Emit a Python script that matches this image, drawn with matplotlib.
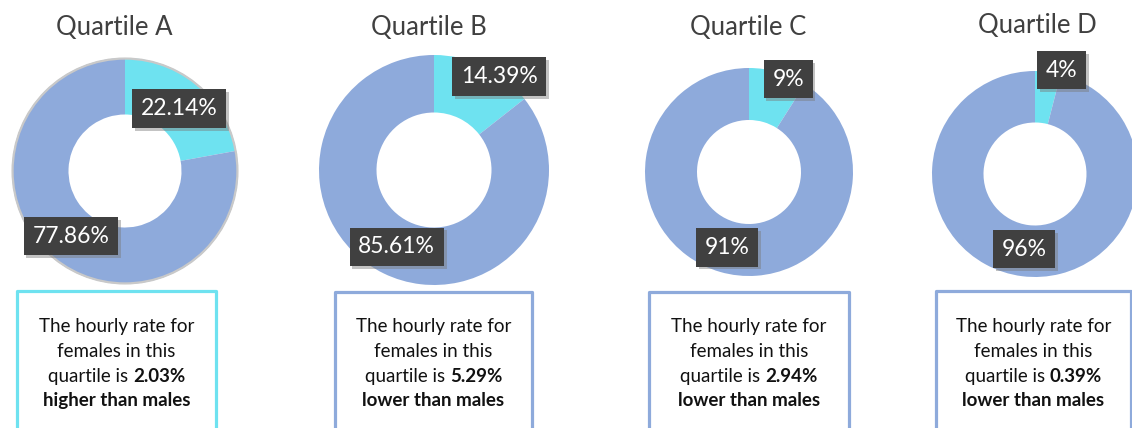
import matplotlib
matplotlib.use("Agg")
import matplotlib.pyplot as plt
import matplotlib.patheffects as pe
from matplotlib.patches import Rectangle, Circle
import numpy as np

# ---------------- data ----------------
quartiles = ["Quartile A", "Quartile B", "Quartile C", "Quartile D"]
female_pct = [22.14, 14.39, 9, 4]
male_pct = [77.86, 85.61, 91, 96]
gap_values = ["2.03%", "5.29%", "2.94%", "0.39%"]
gap_direction = ["higher than males", "lower than males", "lower than males", "lower than males"]

# ---------------- style ----------------
W, H = 1132, 428
CYAN = "#6EE2F0"
BLUE = "#8EAADB"
LABEL_BG = "#404040"
TITLE_C = "#404040"
FONT = ["Lato", "DejaVu Sans"]

# donut centre/radius in pixels
donut_geom = [(125, 171, 113), (434, 170, 115), (749, 172, 104), (1035, 174, 103)]
# label placement (radius fraction, angular nudge deg) for female / male labels
female_lab = [(0.73, 1.0), (0.99, 9.0), (0.97, 6.6), (1.04, 7.1)]
male_lab = [(0.75, 0.0), (0.743, 0.0), (0.756, 0.0), (0.736, 1.0)]
title_pos = [(114, 35), (429, 35), (748, 35), (1037, 33)]
box_geom = [(17, 291, 216), (335, 292, 532), (649, 292, 849), (936, 291, 1131)]
box_col = [CYAN, BLUE, BLUE, BLUE]
line_base = [332, 357, 382, 406]

fig = plt.figure(figsize=(W / 100, H / 100), dpi=100)
fig.patch.set_facecolor("white")


def fx(x):
    return x / W


def fy(y):
    return 1 - y / H


def fmt(v):
    return f"{v:g}%"


for i in range(4):
    cx, cy, R = donut_geom[i]
    ax = fig.add_axes([fx(cx - R), fy(cy + R), 2 * R / W, 2 * R / H])
    vals = [female_pct[i], male_pct[i]]
    ax.pie(vals, colors=[CYAN, BLUE], startangle=90, counterclock=False,
           radius=1.0, wedgeprops=dict(width=0.5, edgecolor="none"))
    ax.set_xlim(-1, 1)
    ax.set_ylim(-1, 1)
    ax.set_aspect("equal")
    ax.axis("off")
    if i == 0:
        ax.add_patch(Circle((0, 0), 0.995, fill=False, ec="#C9C9C9", lw=1.6, zorder=3,
                            clip_on=False))
    tot = sum(vals)
    mids = [vals[0] / tot * 180, (vals[0] + vals[1] / 2) / tot * 360]
    for j, (val, mid, (rf, dth)) in enumerate(zip(vals, mids, [female_lab[i], male_lab[i]])):
        th = np.deg2rad(mid + dth)
        x, y = rf * np.sin(th), rf * np.cos(th)
        t = ax.text(x, y, fmt(val), ha="center", va="center", color="white",
                    fontsize=16.5, family=FONT, zorder=5, clip_on=False,
                    bbox=dict(boxstyle="square,pad=0.38", fc=LABEL_BG, ec="none", lw=0))
        t.get_bbox_patch().set_path_effects(
            [pe.withSimplePatchShadow(offset=(2, -2), shadow_rgbFace="#7a7a7a", alpha=0.45)])

    # title
    tx, ty = title_pos[i]
    fig.text(fx(tx), fy(ty), quartiles[i], ha="center", va="baseline",
             fontsize=18.5, color=TITLE_C, family=FONT)

    # bottom box
    x0, y0, x1 = box_geom[i]
    fig.patches.append(Rectangle((fx(x0), fy(H + 20)), (x1 - x0) / W, (H + 20 - y0) / H,
                                 transform=fig.transFigure, fill=False, ec=box_col[i],
                                 lw=2.3, joinstyle="round", figure=fig))

fig.canvas.draw()
renderer = fig.canvas.get_renderer()


def width_px(s, weight):
    t = fig.text(0, 0, s, fontsize=13.5, family=FONT, weight=weight)
    w = t.get_window_extent(renderer).width
    t.remove()
    return w


for i in range(4):
    x0, y0, x1 = box_geom[i]
    xc = (x0 + x1) / 2
    kw = dict(fontsize=13.5, family=FONT, color="#111111", va="baseline")
    fig.text(fx(xc), fy(line_base[0]), "The hourly rate for", ha="center", **kw)
    fig.text(fx(xc), fy(line_base[1]), "females in this", ha="center", **kw)
    a = "quartile is"
    b = gap_values[i]
    wa = width_px(a, "normal")
    wsp = width_px("i i", "normal") - width_px("ii", "normal")
    wb = width_px(b, "bold")
    start = xc - (wa + wsp + wb) / 2
    fig.text(fx(start), fy(line_base[2]), a, ha="left", **kw)
    fig.text(fx(start + wa + wsp), fy(line_base[2]), b, ha="left", weight="bold", **kw)
    fig.text(fx(xc), fy(line_base[3]), gap_direction[i], ha="center", weight="bold", **kw)

fig.savefig("out.png", dpi=100, facecolor="white")
